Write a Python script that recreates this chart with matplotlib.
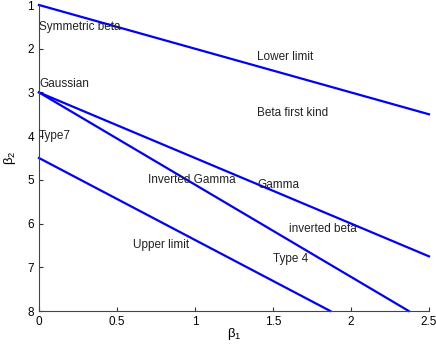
import matplotlib
matplotlib.use("Agg")
import matplotlib.pyplot as plt

plt.rcParams["font.family"] = ["Liberation Sans", "DejaVu Sans"]
plt.rcParams["mathtext.fontset"] = "custom"
plt.rcParams["mathtext.rm"] = "Liberation Sans"
plt.rcParams["mathtext.it"] = "Liberation Sans"

# beta1 / beta2 end points of each boundary line
lower_limit_b1 = [0, 2.5]
lower_limit_b2 = [1, 3.5]
gamma_b1 = [0, 2.5]
gamma_b2 = [3, 6.75]
inv_gamma_b1 = [0, 2.37]
inv_gamma_b2 = [3, 8]
upper_limit_b1 = [0, 1.867]
upper_limit_b2 = [4.5, 8]

# region labels
label_text = ["Symmetric beta", "Gaussian", "Type7", "Lower limit", "Beta first kind",
              "Inverted Gamma", "Gamma", "inverted beta", "Type 4", "Upper limit"]
label_x = [0, 0, 0, 1.4, 1.4, 0.7, 1.4, 1.6, 1.5, 0.6]
label_y = [1.5, 2.8, 4.0, 2.2, 3.47, 5.0, 5.12, 6.12, 6.8, 6.5]

fig = plt.figure(figsize=(4.36, 3.53), dpi=100)
ax = fig.add_axes([39/436, 42/353, 390/436, 306/353])

for xs, ys in [(lower_limit_b1, lower_limit_b2), (gamma_b1, gamma_b2),
               (inv_gamma_b1, inv_gamma_b2), (upper_limit_b1, upper_limit_b2)]:
    ax.plot(xs, ys, color="#0000ff", linewidth=1.6, clip_on=False)

for t, x, y in zip(label_text, label_x, label_y):
    ax.text(x, y, t, fontsize=8.5, color="#222222", va="center", ha="left")

ax.set_xlim(0, 2.5)
ax.set_ylim(8, 1)
ax.set_xticks([0, 0.5, 1, 1.5, 2, 2.5])
ax.set_xticklabels(["0", "0.5", "1", "1.5", "2", "2.5"])
ax.set_yticks(range(1, 9))
ax.tick_params(direction="in", labelsize=8.5, length=3, colors="#333333", labelcolor="black")
ax.spines["top"].set_visible(False)
ax.spines["right"].set_visible(False)
for s in ["left", "bottom"]:
    ax.spines[s].set_color("#444444")
ax.set_xlabel("β$_1$", fontsize=9.5, labelpad=-1)
ax.set_ylabel("β$_2$", fontsize=9.5, labelpad=7)

fig.savefig("out.png", dpi=100)
